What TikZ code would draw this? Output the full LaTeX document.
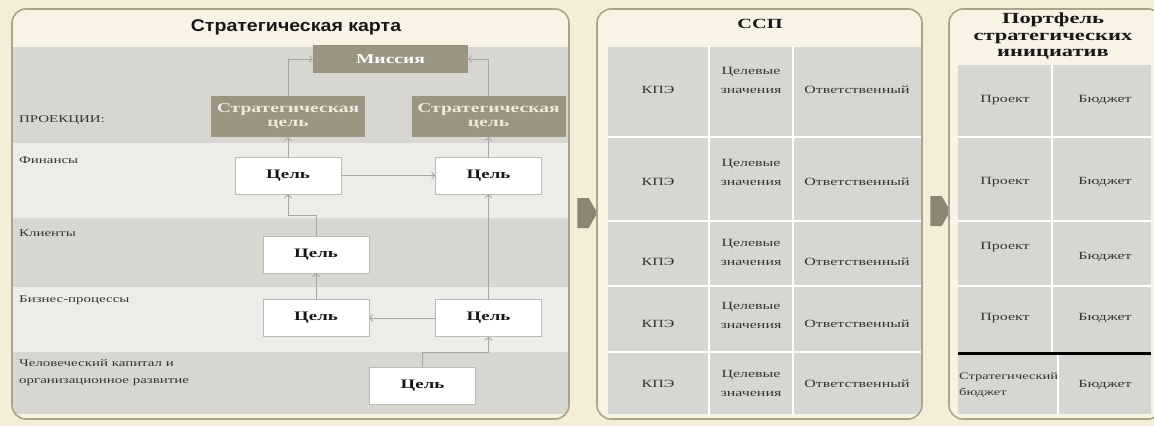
\documentclass[tikz,border=0pt]{standalone}
\usepackage{fontspec}
\setmainfont{Liberation Serif}
\newfontfamily\mapserif[FakeStretch=1.45]{Liberation Serif}
\newfontfamily\mapsans[FakeStretch=1.15]{Liberation Sans}
\usepackage{xcolor}
\definecolor{paper}{RGB}{244,237,216}
\definecolor{panelfill}{RGB}{248,243,228}
\definecolor{panelline}{RGB}{172,163,140}
\definecolor{bandgray}{RGB}{215,214,209}
\definecolor{bandlight}{RGB}{236,236,233}
\definecolor{cellgray}{RGB}{214,214,211}
\definecolor{taupe}{RGB}{154,148,128}
\definecolor{taupetext}{RGB}{238,234,222}
\definecolor{connline}{RGB}{165,165,162}
\definecolor{boxline}{RGB}{185,185,182}
\definecolor{inkgray}{RGB}{52,52,50}
\definecolor{ink}{RGB}{24,24,24}
\usepackage{tikz}
\usetikzlibrary{arrows.meta,shapes.symbols}
\tikzset{
  %% panels and bands
  panel/.style={draw=panelline, line width=1.6pt, rounded corners=14pt},
  gridline/.style={draw=white, line width=2.5pt},
  %% map boxes
  topbox/.style={fill=taupe, inner sep=0pt, align=center,
    font=\mapserif\fontsize{13.5}{14}\selectfont\bfseries},
  goalbox/.style={draw=boxline, fill=white, line width=0.7pt,
    minimum width=106pt, minimum height=37pt, inner sep=0pt, text=ink,
    font=\mapserif\fontsize{13}{15}\selectfont\bfseries},
  conn/.style={draw=connline, line width=0.8pt,
    -{Straight Barb[length=3pt,width=7pt]}},
  %% texts
  rowlabel/.style={anchor=west, align=left, inner sep=1pt, text=inkgray,
    font=\mapserif\fontsize{10.3}{17}\selectfont},
  celltext/.style={align=center, inner sep=1pt, text=inkgray,
    font=\mapserif\fontsize{11}{19}\selectfont},
  blockarrow/.style={signal, signal to=east, signal pointer angle=120,
    fill=taupe!90!black, minimum width=20pt, minimum height=30pt, inner sep=0pt},
}
\begin{document}
\begin{tikzpicture}[x=1pt,y=-1pt]
  \useasboundingbox (0,0) rectangle (1154,426);
  \fill[paper] (0,0) rectangle (1154,426);
  %% strategy map panel
  \fill[panelfill,rounded corners=14pt] (12,9) rectangle (569,419);
  \begin{scope}
    \clip[rounded corners=14pt] (12,9) rectangle (569,419);
    \fill[bandgray]  (12,47)  rectangle (569,143);
    \fill[bandlight] (12,143) rectangle (569,218);
    \fill[bandgray]  (12,218) rectangle (569,287);
    \fill[bandlight] (12,287) rectangle (569,352);
    \fill[bandgray]  (12,352) rectangle (569,414);
  \end{scope}
  \draw[panel] (12,9) rectangle (569,419);
  \node[font=\mapsans\fontsize{17}{20}\selectfont\bfseries,text=ink] (maptitle)
    at (296,27) {Стратегическая карта};
  \node[rowlabel] (lproj) at (18,120) {ПРОЕКЦИИ:};
  \node[rowlabel] (lfin)  at (18,160) {Финансы};
  \node[rowlabel] (lcli)  at (18,233) {Клиенты};
  \node[rowlabel] (lbus)  at (18,300) {Бизнес-процессы};
  \node[rowlabel] (lhum)  at (18,373)
    {Человеческий капитал и\\организационное развитие};
  \node[topbox,text=white,minimum width=155pt,minimum height=28pt] (mission)
    at (390.5,59) {Миссия};
  \node[topbox,text=taupetext,minimum width=154pt,minimum height=41pt] (stratL)
    at (288,116.5) {Стратегическая\\цель};
  \node[topbox,text=taupetext,minimum width=154pt,minimum height=41pt] (stratR)
    at (488.5,116.5) {Стратегическая\\цель};
  \node[goalbox] (finL) at (288,175.5)   {Цель};
  \node[goalbox] (finR) at (488.5,175.5) {Цель};
  \node[goalbox] (cli)  at (316,254.5)   {Цель};
  \node[goalbox] (busL) at (316,318)     {Цель};
  \node[goalbox] (busR) at (488.5,318)   {Цель};
  \node[goalbox] (hum)  at (422.5,386)   {Цель};
  %% links between goals
  \draw[conn] (stratL.north) |- (mission.west);
  \draw[conn] (stratR.north) |- (mission.east);
  \draw[conn] (finL.north) -- (stratL.south);
  \draw[conn] (finR.north) -- (stratR.south);
  \draw[conn] (finL.east) -- (finR.west);
  \draw[conn] (cli.north) -- ++(0,-20) -| (finL.south);
  \draw[conn] (busL.north) -- (cli.south);
  \draw[conn] (busR.west) -- (busL.east);
  \draw[conn] (busR.north) -- (finR.south);
  \draw[conn] (hum.north) -- ++(0,-15) -| (busR.south);
  \node[blockarrow] (arrA) at (583,213) {};
  %% balanced scorecard panel
  \fill[panelfill,rounded corners=14pt] (597,9) rectangle (922,419);
  \begin{scope}
    \clip[rounded corners=14pt] (597,9) rectangle (922,419);
    \fill[cellgray] (608,47) rectangle (922,414);
    \draw[gridline] (709,47) -- (709,414) (793,47) -- (793,414);
    \draw[gridline] (608,137) -- (922,137) (608,221) -- (922,221)
      (608,286) -- (922,286) (608,352) -- (922,352);
  \end{scope}
  \draw[panel] (597,9) rectangle (922,419);
  \node[font=\mapserif\fontsize{14}{16}\selectfont\bfseries,text=ink] (ssptitle)
    at (760,24) {ССП};
  \node[celltext] (kpi1) at (658,90)  {КПЭ};
  \node[celltext] (kpi2) at (658,182) {КПЭ};
  \node[celltext] (kpi3) at (658,262) {КПЭ};
  \node[celltext] (kpi4) at (658,324) {КПЭ};
  \node[celltext] (kpi5) at (658,384) {КПЭ};
  \node[celltext] (tgt1) at (751,80)  {Целевые\\значения};
  \node[celltext] (tgt2) at (751,172) {Целевые\\значения};
  \node[celltext] (tgt3) at (751,252) {Целевые\\значения};
  \node[celltext] (tgt4) at (751,315) {Целевые\\значения};
  \node[celltext] (tgt5) at (751,383) {Целевые\\значения};
  \node[celltext] (own1) at (857,90)  {Ответственный};
  \node[celltext] (own2) at (857,182) {Ответственный};
  \node[celltext] (own3) at (857,262) {Ответственный};
  \node[celltext] (own4) at (857,324) {Ответственный};
  \node[celltext] (own5) at (857,384) {Ответственный};
  \node[blockarrow] (arrB) at (936,211) {};
  %% initiatives portfolio panel
  \fill[panelfill,rounded corners=14pt] (949,9) rectangle (1162,419);
  \begin{scope}
    \clip[rounded corners=14pt] (949,9) rectangle (1162,419);
    \fill[cellgray] (958,65) rectangle (1151,414);
    \draw[gridline] (1052,65) -- (1052,352) (1058,355) -- (1058,414);
    \draw[gridline] (958,137) -- (1151,137) (958,221) -- (1151,221)
      (958,286) -- (1151,286);
    \draw[black,line width=3pt] (958,353) -- (1151,353);
  \end{scope}
  \draw[panel] (949,9) rectangle (1162,419);
  \node[align=center,text=ink,
    font=\mapserif\fontsize{15.5}{16.5}\selectfont\bfseries] (porttitle)
    at (1053,36) {Портфель\\стратегических\\инициатив};
  \node[celltext] (proj1) at (1005,100) {Проект};
  \node[celltext] (proj2) at (1005,182) {Проект};
  \node[celltext] (proj3) at (1005,247) {Проект};
  \node[celltext] (proj4) at (1005,318) {Проект};
  \node[celltext] (bud1) at (1105,100) {Бюджет};
  \node[celltext] (bud2) at (1105,182) {Бюджет};
  \node[celltext] (bud3) at (1105,257) {Бюджет};
  \node[celltext] (bud4) at (1105,318) {Бюджет};
  \node[celltext,anchor=west,align=left,font=\mapserif\fontsize{10}{16}\selectfont]
    (stratbud) at (958,385) {Стратегический\\бюджет};
  \node[celltext] (bud5) at (1105,385) {Бюджет};
\end{tikzpicture}
\end{document}
